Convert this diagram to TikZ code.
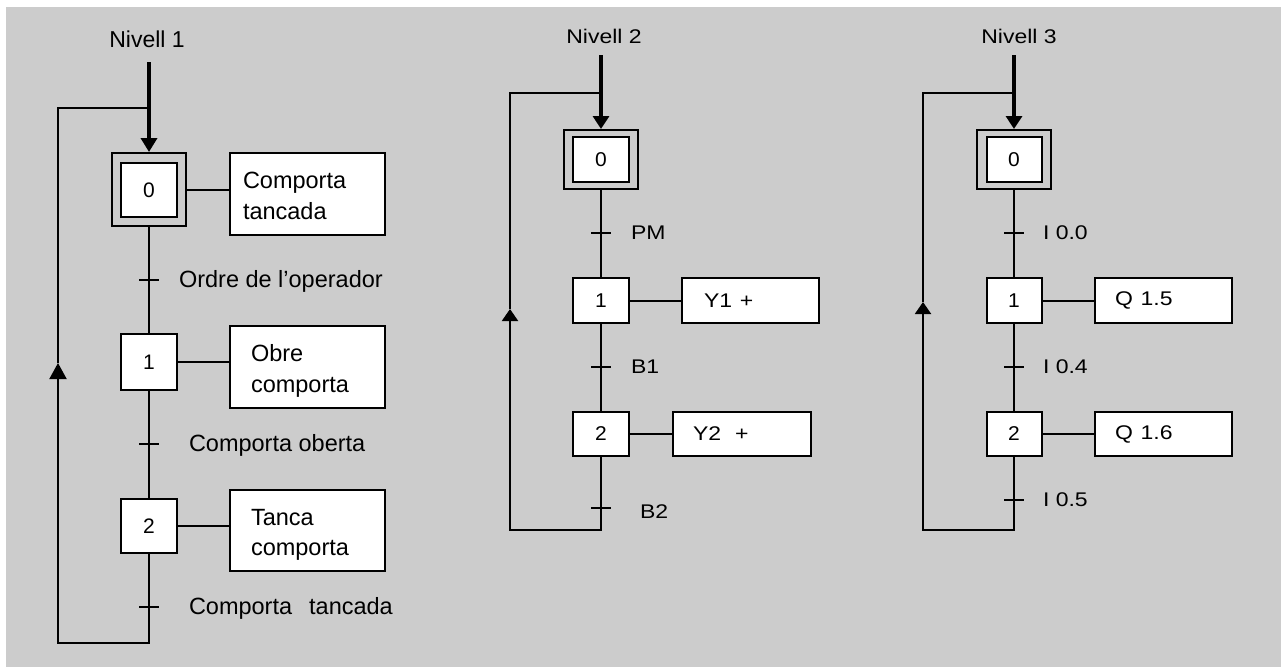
\documentclass[tikz,border=0pt]{standalone}
\usepackage{fontspec}
\setmainfont{Liberation Sans}
\usepackage{graphicx}
\usetikzlibrary{arrows.meta}
\definecolor{bg}{RGB}{204,204,204}
\newcommand{\sqz}[1]{\scalebox{1}[0.86]{#1}}
\newcommand{\sqd}[1]{\scalebox{1}[0.95]{#1}}
\begin{document}
\begin{tikzpicture}[x=1pt,y=-1pt,line width=2pt,
  stepbox/.style={draw,fill=white,minimum width=56pt,inner sep=0pt,font=\fontsize{21}{21}\selectfont},
  initouter/.style={draw,fill=bg,minimum width=74pt,inner sep=0pt},
  actbox/.style={draw,fill=white,inner ysep=0pt,align=left,font=\fontsize{23.5}{30.5}\selectfont},
  actboxs/.style={draw,fill=white,inner ysep=0pt,align=left,font=\fontsize{23}{28}\selectfont},
  lab/.style={anchor=base west,inner sep=0pt,font=\fontsize{23.5}{28}\selectfont},
  labs/.style={anchor=base west,inner sep=0pt,font=\fontsize{23}{28}\selectfont},
  title/.style={anchor=base,inner sep=0pt,font=\fontsize{23}{28}\selectfont},
  mainarrow/.style={line width=3.6pt,-{Triangle[width=16pt,length=14pt]}},
  mainarrows/.style={line width=3.6pt,-{Triangle[width=16pt,length=13pt]}},
  looparrow/.style={line join=miter,-{Triangle[width=17pt,length=16pt]}},
  looparrows/.style={line join=miter,-{Triangle[width=16pt,length=12pt]}}]
\useasboundingbox (0,0) rectangle (1281,667);
\fill[white] (0,0) rectangle (1281,667);
\fill[bg] (6,7) rectangle (1281,667);

% ---------------- Level 1 ----------------
\node[title] (n1) at (147,47.3) {Nivell 1};
\coordinate (top1) at (149,62);
\node[initouter,minimum height=73pt] (s10o) at (149,189.5) {};
\node[stepbox,minimum height=54pt] (s10) at (149,190) {0};
\node[stepbox,minimum height=56pt] (s11) at (149,362) {1};
\node[stepbox,minimum height=54pt] (s12) at (149,526) {2};
\node[actbox,text width=129pt,inner xsep=13pt,minimum height=82pt,text height=17pt,text depth=28pt] (a10) at (307.5,194) {Comporta\\tancada};
\node[actbox,text width=113pt,inner xsep=21pt,minimum height=82pt,text height=17pt,text depth=28pt] (a11) at (307.5,367) {Obre\\comporta};
\node[actbox,text width=113pt,inner xsep=21pt,minimum height=81pt,text height=17pt,text depth=28pt] (a12) at (307.5,530.5) {Tanca\\comporta};
\draw (s10o.east) -- (s10o.east -| a10.west);
\draw (s11.east) -- (s11.east -| a11.west);
\draw (s12.east) -- (s12.east -| a12.west);
\draw (s10o.south) -- (s11.north);
\draw (s11.south) -- (s12.north);
\coordinate (t11) at (149,280);
\coordinate (t12) at (149,444);
\coordinate (t13) at (149,607);
\draw (t11) ++(-10,0) -- ++(20,0);
\draw (t12) ++(-10,0) -- ++(20,0);
\draw (t13) ++(-10,0) -- ++(20,0);
\node[lab] (l11) at (178,287.5) {Ordre de l’operador};
\node[lab] (l12) at (188,451) {Comporta oberta};
\node[lab] (l13) at (188,614.5) {Comporta\hspace{17pt}tancada};
\coordinate (b1) at (149,643);
\coordinate (bl1) at (58,643);
\coordinate (ar1) at (58,363);
\coordinate (tl1) at (58,108);
\coordinate (j1) at (149,108);
\draw[looparrow] (s12.south) -- (b1) -- (bl1) -- (ar1);
\draw[line join=miter] (ar1) -- (tl1) -- (j1);
\draw[mainarrow] (top1) -- (s10o.north);

% ---------------- Level 2 ----------------
\node[title] (n2) at (604,43.3) {\sqz{Nivell 2}};
\coordinate (top2) at (601,55);
\node[initouter,minimum height=59pt] (s20o) at (601,159.5) {};
\node[stepbox,minimum height=45pt] (s20) at (601,159.5) {\sqd{0}};
\node[stepbox,minimum height=45pt] (s21) at (601,300.5) {\sqd{1}};
\node[stepbox,minimum height=44pt] (s22) at (601,434) {\sqd{2}};
\node[actboxs,text width=93pt,inner xsep=22pt,minimum height=45pt] (a21) at (750.5,300.5) {\sqz{Y1 +}};
\node[actboxs,text width=98pt,inner xsep=20pt,minimum height=44pt] (a22) at (742,434) {\sqz{Y2\hspace{14pt}+}};
\draw (s21.east) -- (s21.east -| a21.west);
\draw (s22.east) -- (s22.east -| a22.west);
\draw (s20o.south) -- (s21.north);
\draw (s21.south) -- (s22.north);
\coordinate (t21) at (601,233);
\coordinate (t22) at (601,367);
\coordinate (t23) at (601,508);
\draw (t21) ++(-10,0) -- ++(20,0);
\draw (t22) ++(-10,0) -- ++(20,0);
\draw (t23) ++(-10,0) -- ++(20,0);
\node[labs] (l21) at (630,239.8) {\sqz{PM}};
\node[labs] (l22) at (630,373.8) {\sqz{B1}};
\node[labs] (l23) at (639,518.5) {\sqz{B2}};
\coordinate (b2) at (601,530);
\coordinate (bl2) at (510,530);
\coordinate (ar2) at (510,309);
\coordinate (tl2) at (510,93);
\coordinate (j2) at (601,93);
\draw[looparrows] (s22.south) -- (b2) -- (bl2) -- (ar2);
\draw[line join=miter] (ar2) -- (tl2) -- (j2);
\draw[mainarrows] (top2) -- (s20o.north);

% ---------------- Level 3 ----------------
\node[title] (n3) at (1019,43.8) {\sqz{Nivell 3}};
\coordinate (top3) at (1014,55);
\node[initouter,minimum height=59pt] (s30o) at (1014,159.5) {};
\node[stepbox,minimum height=45pt,minimum width=55pt] (s30) at (1014,159.5) {\sqd{0}};
\node[stepbox,minimum height=45pt,minimum width=55pt] (s31) at (1014,300.5) {\sqd{1}};
\node[stepbox,minimum height=44pt,minimum width=55pt] (s32) at (1014,434) {\sqd{2}};
\node[actboxs,text width=97pt,inner xsep=20pt,minimum height=45pt] (a31) at (1163.5,300.5) {\sqz{Q 1.5}};
\node[actboxs,text width=97pt,inner xsep=20pt,minimum height=44pt] (a32) at (1163.5,434) {\sqz{Q 1.6}};
\draw (s31.east) -- (s31.east -| a31.west);
\draw (s32.east) -- (s32.east -| a32.west);
\draw (s30o.south) -- (s31.north);
\draw (s31.south) -- (s32.north);
\coordinate (t31) at (1014,233);
\coordinate (t32) at (1014,367);
\coordinate (t33) at (1014,500);
\draw (t31) ++(-10,0) -- ++(20,0);
\draw (t32) ++(-10,0) -- ++(20,0);
\draw (t33) ++(-10,0) -- ++(20,0);
\node[labs] (l31) at (1042,239.8) {\sqz{I 0.0}};
\node[labs] (l32) at (1042,373.8) {\sqz{I 0.4}};
\node[labs] (l33) at (1042,506) {\sqz{I 0.5}};
\coordinate (b3) at (1014,530);
\coordinate (bl3) at (923,530);
\coordinate (ar3) at (923,302);
\coordinate (tl3) at (923,93);
\coordinate (j3) at (1014,93);
\draw[looparrows] (s32.south) -- (b3) -- (bl3) -- (ar3);
\draw[line join=miter] (ar3) -- (tl3) -- (j3);
\draw[mainarrows] (top3) -- (s30o.north);
\end{tikzpicture}
\end{document}
